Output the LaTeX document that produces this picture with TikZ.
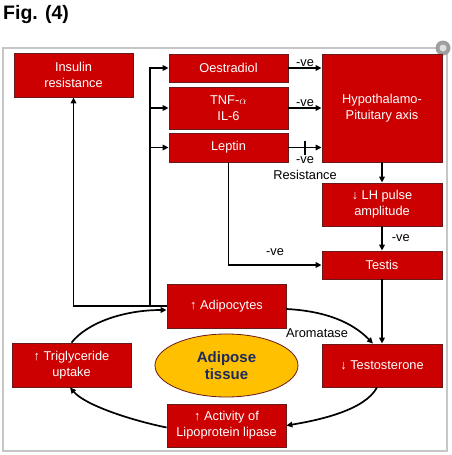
\documentclass[tikz,border=0pt]{standalone}
\usepackage{fontspec}
\setmainfont{Liberation Sans}
\usetikzlibrary{arrows.meta,shapes.geometric}
\definecolor{boxred}{RGB}{204,0,0}
\definecolor{boxline}{RGB}{105,25,25}
\definecolor{fatyellow}{RGB}{255,192,0}
\definecolor{navy}{RGB}{28,42,96}
\newcommand{\fs}{\fontsize{12.8}{16}\selectfont}

\begin{document}
\begin{tikzpicture}[x=1pt,y=-1pt,font=\fs,
 b/.style={draw=boxline,line width=0.8pt,fill=boxred,text=white,align=center,inner sep=0pt,minimum width=119pt},
 a/.style={-{Triangle[length=6pt,width=5.5pt]},line width=1.7pt},
 l/.style={inner sep=1pt}]
 \useasboundingbox (0,0) rectangle (451,455);
 \node[anchor=north west,inner sep=0pt,font=\bfseries\fontsize{19.5}{22}\selectfont] (fig) at (3,5) {Fig. (4)};
 \draw[gray!45,line width=1.2pt] (3,48) rectangle (447,451);
 \fill[gray!75] (443,48) circle (7.5);
 \fill[gray!25] (443,48) circle (3.5);
 % boxes
 \node[b,minimum height=44pt](ins) at (73.5,75) {Insulin\\resistance};
 \node[b,minimum height=28pt](oes) at (228.5,68) {Oestradiol};
 \node[b,minimum height=42pt](tnf) at (228.5,108) {TNF-$\alpha$\\IL-6};
 \node[b,minimum height=29pt](lep) at (228.5,147.5) {Leptin};
 \node[b,minimum width=120pt,minimum height=108pt](hpa) at (382,108) {Hypothalamo-\\Pituitary axis};
 \node[b,minimum width=120pt,minimum height=43pt](lh) at (382,204.5) {↓ LH pulse\\amplitude};
 \node[b,minimum width=120pt,minimum height=28pt](tes) at (382,265) {Testis};
 \node[b,minimum width=120pt,minimum height=43pt](tst) at (382,365.5) {↓ Testosterone};
 \node[b,minimum height=44pt](adi) at (226.5,306) {↑ Adipocytes};
 \node[b,minimum height=44pt](tri) at (71.5,365) {↑ Triglyceride\\uptake};
 \node[b,minimum height=43pt](lpl) at (226.5,425.5) {↑ Activity of\\Lipoprotein lipase};
 \node[ellipse,draw=boxline,line width=0.8pt,fill=fatyellow,minimum width=143pt,minimum height=63pt,inner sep=0pt,
  align=center,text=navy,font=\bfseries\fontsize{15}{17}\selectfont](fat) at (226.5,365.5) {Adipose\\tissue};
 % adipocytes feeding the top row
 \coordinate (br) at (150,306);
 \draw[a] (adi.west) -| (ins.south);
 \draw[a] (br) |- (oes.west);
 \draw[a] (br |- tnf.west) -- (tnf.west);
 \draw[a] (br |- lep.west) -- (lep.west);
 % into the axis
 \draw[a] (oes.east) -- (oes.east -| hpa.west) node[l,midway,above]{-ve};
 \draw[a] (tnf.east) -- (tnf.east -| hpa.west) node[l,midway,above]{-ve};
 \draw[a] (lep.east) -- (lep.east -| hpa.west) coordinate[midway](cut);
 \draw[line width=1.7pt] ([yshift=7pt]cut) -- ([yshift=-7pt]cut);
 \node[l] (neg) at ([yshift=-12.5pt]cut) {-ve};
 \node[l] (res) at ([yshift=-27.5pt]cut) {Resistance};
 \draw[a] (lep.south) |- (tes.west) node[l,pos=0.75,above=8pt]{-ve};
 % right column
 \draw[a] (hpa) -- (lh);
 \draw[a] (lh) -- (tes) node[l,midway,right=8pt]{-ve};
 \draw[a] (tes) -- (tst);
 % the cycle
 \draw[a] ([yshift=-3pt]adi.east) .. controls (325,311) and (352,322) .. ([xshift=-9pt]tst.north);
 \node[l] (aro) at (317,333) {Aromatase};
 \draw[a] ([xshift=-5pt]tst.south) .. controls (365,410) and (320,420) .. (lpl.east);
 \draw[a] ([yshift=-2pt]lpl.west) .. controls (130,420) and (85,405) .. ([xshift=-1.5pt]tri.south);
 \draw[a] (tri.north) .. controls (88,322) and (125,310) .. ([yshift=-4pt]adi.west);
\end{tikzpicture}
\end{document}
